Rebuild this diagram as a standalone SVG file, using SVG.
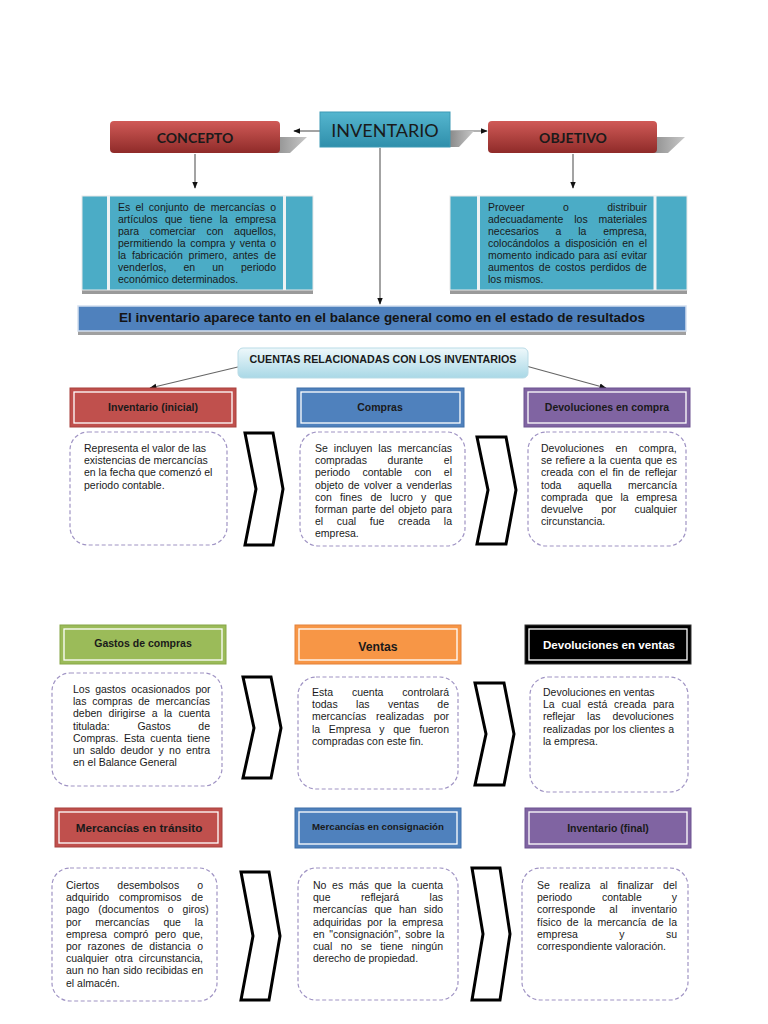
<svg xmlns="http://www.w3.org/2000/svg" width="768" height="1024" viewBox="0 0 768 1024">
<defs>
<linearGradient id="gRed" x1="0" y1="0" x2="0" y2="1"><stop offset="0" stop-color="#d05a57"/><stop offset="1" stop-color="#8f2b29"/></linearGradient>
<linearGradient id="gTeal" x1="0" y1="0" x2="0" y2="1"><stop offset="0" stop-color="#55b6cf"/><stop offset="1" stop-color="#2f8fab"/></linearGradient>
<linearGradient id="gSh" x1="0" y1="0" x2="1" y2="0"><stop offset="0" stop-color="#8a8a8a"/><stop offset="1" stop-color="#c8c8c8"/></linearGradient>
<linearGradient id="gCta" x1="0" y1="0" x2="0" y2="1"><stop offset="0" stop-color="#eef8fb"/><stop offset="1" stop-color="#a9d8e6"/></linearGradient>
<marker id="ah" viewBox="0 0 10 10" refX="9" refY="5" markerWidth="6" markerHeight="6" orient="auto"><path d="M0,1 L10,5 L0,9 z" fill="#111"/></marker>
</defs>
<style>
.body{font-family:"Liberation Sans",Arial,sans-serif;font-size:10.5px;fill:#1a1a1a}
.hdr{font-family:"Liberation Sans",Arial,sans-serif;font-weight:bold;font-size:10.5px;fill:#1a1a1a;text-anchor:middle}
.top{font-family:Lato,"Open Sans",sans-serif;fill:#1a1a1a;text-anchor:middle}
.dash{fill:#fff;stroke:#a094c4;stroke-width:1.2;stroke-dasharray:4 2.5}
.chev{fill:#fff;stroke:#000;stroke-width:3}
.inner{fill:none;stroke:#fff;stroke-width:1.3}
.conn{fill:none;stroke:#666;stroke-width:1.2;marker-end:url(#ah)}
</style>
<rect width="768" height="1024" fill="#fff"/>

<g id="connectors">
<line class="conn" x1="320" y1="131" x2="294" y2="131"/>
<line class="conn" x1="450" y1="131" x2="487" y2="131"/>
<line class="conn" x1="195" y1="154" x2="195" y2="188"/>
<line class="conn" x1="573" y1="154" x2="573" y2="188"/>
<line class="conn" x1="380" y1="148" x2="380" y2="304"/>
<line class="conn" x1="242" y1="366" x2="150" y2="388"/>
<line class="conn" x1="526" y1="366" x2="606" y2="388"/>
</g>

<g id="inventario">
<polygon points="450,131 474,131 459,147 450,147" fill="url(#gSh)"/>
<rect x="320" y="112" width="130" height="35" fill="url(#gTeal)" stroke="#3d9ab5"/>
<text class="top" x="385" y="137" font-size="18">INVENTARIO</text>
</g>
<g id="concepto">
<polygon points="272,137 307,137 290,153 272,153" fill="url(#gSh)"/>
<rect x="110" y="121" width="170" height="32" rx="4" fill="url(#gRed)"/>
<text class="top" x="195" y="143" font-size="14" font-weight="bold">CONCEPTO</text>
</g>
<g id="objetivo">
<polygon points="650,137 685,137 668,153 650,153" fill="url(#gSh)"/>
<rect x="488" y="121" width="169" height="32" rx="4" fill="url(#gRed)"/>
<text class="top" x="573" y="143" font-size="14" font-weight="bold">OBJETIVO</text>
</g>

<g id="concepto-def">
<rect x="82" y="290" width="231" height="4" fill="#9a9a9a"/>
<rect x="82" y="196" width="231" height="94" fill="#4bacc6" stroke="#e8e8e8"/>
<line x1="108.5" y1="196" x2="108.5" y2="290" stroke="#eef2f4" stroke-width="3"/>
<line x1="284.5" y1="196" x2="284.5" y2="290" stroke="#eef2f4" stroke-width="3"/>
<text class="body" x="118" y="211" style="word-spacing:2.3px">Es el conjunto de mercancías o</text>
<text class="body" x="118" y="223" style="word-spacing:4.33px">artículos que tiene la empresa</text>
<text class="body" x="118" y="235" style="word-spacing:7.75px">para comerciar con aquellos,</text>
<text class="body" x="118" y="247" style="word-spacing:1.72px">permitiendo la compra y venta o</text>
<text class="body" x="118" y="259" style="word-spacing:2.88px">la fabricación primero, antes de</text>
<text class="body" x="118" y="271" style="word-spacing:14.15px">venderlos, en un periodo</text>
<text class="body" x="118" y="283">económico determinados.</text>
</g>

<g id="objetivo-def">
<rect x="450" y="290" width="237" height="4" fill="#9a9a9a"/>
<rect x="450" y="196" width="237" height="94" fill="#4bacc6" stroke="#e8e8e8"/>
<line x1="478.5" y1="196" x2="478.5" y2="290" stroke="#eef2f4" stroke-width="3"/>
<line x1="655" y1="196" x2="655" y2="290" stroke="#eef2f4" stroke-width="3"/>
<text class="body" x="488" y="211" style="word-spacing:35.4px">Proveer o distribuir</text>
<text class="body" x="488" y="223" style="word-spacing:8px">adecuadamente los materiales</text>
<text class="body" x="488" y="235" style="word-spacing:13.9px">necesarios a la empresa,</text>
<text class="body" x="488" y="247" style="word-spacing:2.1px">colocándolos a disposición en el</text>
<text class="body" x="488" y="259" style="word-spacing:0.93px">momento indicado para así evitar</text>
<text class="body" x="488" y="271" style="word-spacing:1.8px">aumentos de costos perdidos de</text>
<text class="body" x="488" y="283">los mismos.</text>
</g>

<g id="banner">
<rect x="78" y="331" width="608" height="4" fill="#a0a0a0"/>
<rect x="78" y="306" width="608" height="25" fill="#4f81bd" stroke="#d3dff0" stroke-width="1.5"/>
<text x="382" y="322" font-family="Liberation Sans, Arial, sans-serif" font-weight="bold" font-size="13.5" fill="#141414" text-anchor="middle">El inventario aparece tanto en el balance general como en el estado de resultados</text>
</g>

<g id="cuentas">
<rect x="238" y="348" width="290" height="30" rx="5" fill="url(#gCta)" stroke="#b9dbe6"/>
<text class="hdr" x="383" y="363" style="font-size:10.7px">CUENTAS RELACIONADAS CON LOS INVENTARIOS</text>
</g>

<!-- Row 1 -->
<g id="inv-inicial">
<rect x="70" y="388" width="166" height="39" fill="#c0504d" stroke="#a8403d"/>
<rect class="inner" x="74" y="392" width="158" height="31"/>
<text class="hdr" x="153" y="411">Inventario (inicial)</text>
<rect class="dash" x="70" y="432" width="157" height="113" rx="18"/>
<text class="body" x="84" y="452">Representa el valor de las</text>
<text class="body" x="84" y="464.2">existencias de mercancías</text>
<text class="body" x="84" y="476.4">en la fecha que comenzó el</text>
<text class="body" x="84" y="488.6">periodo contable.</text>
</g>
<g id="compras">
<rect x="297" y="388" width="167" height="39" fill="#4f81bd" stroke="#3f6fa8"/>
<rect class="inner" x="301" y="392" width="159" height="31"/>
<text class="hdr" x="380" y="411">Compras</text>
<rect class="dash" x="300" y="432" width="165" height="114" rx="18"/>
<text class="body" x="315" y="452" style="word-spacing:3.08px">Se incluyen las mercancías</text>
<text class="body" x="315" y="464.2" style="word-spacing:17.7px">compradas durante el</text>
<text class="body" x="315" y="476.4" style="word-spacing:9.48px">periodo contable con el</text>
<text class="body" x="315" y="488.6" style="word-spacing:1.43px">objeto de volver a venderlas</text>
<text class="body" x="315" y="500.8" style="word-spacing:5.22px">con fines de lucro y que</text>
<text class="body" x="315" y="513" style="word-spacing:1.28px">forman parte del objeto para</text>
<text class="body" x="315" y="525.2" style="word-spacing:10.76px">el cual fue creada la</text>
<text class="body" x="315" y="537.4">empresa.</text>
</g>
<g id="dev-compra">
<rect x="524" y="388" width="166" height="39" fill="#8064a2" stroke="#6c5290"/>
<rect class="inner" x="528" y="392" width="158" height="31"/>
<text class="hdr" x="607" y="411">Devoluciones en compra</text>
<rect class="dash" x="528" y="432" width="158" height="114" rx="18"/>
<text class="body" x="541" y="452" style="word-spacing:8.63px">Devoluciones en compra,</text>
<text class="body" x="541" y="464.2" style="word-spacing:0.58px">se refiere a la cuenta que es</text>
<text class="body" x="541" y="476.4" style="word-spacing:1.88px">creada con el fin de reflejar</text>
<text class="body" x="541" y="488.6" style="word-spacing:13.43px">toda aquella mercancía</text>
<text class="body" x="541" y="500.8" style="word-spacing:4.68px">comprada que la empresa</text>
<text class="body" x="541" y="513" style="word-spacing:15.18px">devuelve por cualquier</text>
<text class="body" x="541" y="525.2">circunstancia.</text>
</g>

<!-- Row 2 -->
<g id="gastos-compras">
<rect x="60" y="625" width="166" height="39" fill="#9bbb59" stroke="#86a646"/>
<rect class="inner" x="64" y="629" width="158" height="31"/>
<text class="hdr" x="143" y="647">Gastos de compras</text>
<rect class="dash" x="52" y="673" width="170" height="113" rx="18"/>
<text class="body" x="73" y="693" style="word-spacing:2.28px">Los gastos ocasionados por</text>
<text class="body" x="73" y="705.2" style="word-spacing:2.88px">las compras de mercancías</text>
<text class="body" x="73" y="717.4" style="word-spacing:3.46px">deben dirigirse a la cuenta</text>
<text class="body" x="73" y="729.6" style="word-spacing:24.73px">titulada: Gastos de</text>
<text class="body" x="73" y="741.8" style="word-spacing:2.48px">Compras. Esta cuenta tiene</text>
<text class="body" x="73" y="754" style="word-spacing:2.42px">un saldo deudor y no entra</text>
<text class="body" x="73" y="766.2">en el Balance General</text>
</g>
<g id="ventas">
<rect x="295" y="625" width="166" height="39" fill="#f79646" stroke="#e3813a"/>
<rect class="inner" x="299" y="629" width="158" height="31"/>
<text class="hdr" x="378" y="650.5" style="font-size:12.2px">Ventas</text>
<rect class="dash" x="298" y="677" width="160" height="112" rx="18"/>
<text class="body" x="312" y="696" style="word-spacing:15.98px">Esta cuenta controlará</text>
<text class="body" x="312" y="708.2" style="word-spacing:15.51px">todas las ventas de</text>
<text class="body" x="312" y="720.4" style="word-spacing:6.93px">mercancías realizadas por</text>
<text class="body" x="312" y="732.6" style="word-spacing:5.65px">la Empresa y que fueron</text>
<text class="body" x="312" y="744.8">compradas con este fin.</text>
</g>
<g id="dev-ventas">
<rect x="525" y="625" width="166" height="39" fill="#000" stroke="#333"/>
<rect class="inner" x="529" y="629" width="158" height="31"/>
<text class="hdr" x="609" y="648.5" style="fill:#fff;font-size:11.6px">Devoluciones en ventas</text>
<rect class="dash" x="530" y="677" width="158" height="115" rx="18"/>
<text class="body" x="543" y="696">Devoluciones en ventas</text>
<text class="body" x="543" y="708.2" style="word-spacing:3.86px">La cual está creada para</text>
<text class="body" x="543" y="720.4" style="word-spacing:9.08px">reflejar las devoluciones</text>
<text class="body" x="543" y="732.6" style="word-spacing:0.36px">realizadas por los clientes a</text>
<text class="body" x="543" y="744.8">la empresa.</text>
</g>

<!-- Row 3 -->
<g id="merc-transito">
<rect x="55" y="808" width="167" height="39" fill="#c0504d" stroke="#a8403d"/>
<rect class="inner" x="59" y="812" width="159" height="31"/>
<text class="hdr" x="139" y="831.5" style="font-size:11.7px">Mercancías en tránsito</text>
<rect class="dash" x="52" y="868" width="165" height="133" rx="18"/>
<text class="body" x="66" y="889" style="word-spacing:15.13px">Ciertos desembolsos o</text>
<text class="body" x="66" y="901.2" style="word-spacing:6.93px">adquirido compromisos de</text>
<text class="body" x="66" y="913.4" style="word-spacing:5.98px">pago (documentos o giros)</text>
<text class="body" x="66" y="925.6" style="word-spacing:11.05px">por mercancías que la</text>
<text class="body" x="66" y="937.8" style="word-spacing:3.65px">empresa compró pero que,</text>
<text class="body" x="66" y="950" style="word-spacing:3.46px">por razones de distancia o</text>
<text class="body" x="66" y="962.2" style="word-spacing:3.13px">cualquier otra circunstancia,</text>
<text class="body" x="66" y="974.4" style="word-spacing:0.56px">aun no han sido recibidas en</text>
<text class="body" x="66" y="986.6">el almacén.</text>
</g>
<g id="merc-consignacion">
<rect x="295" y="808" width="166" height="40" fill="#4f81bd" stroke="#3f6fa8"/>
<rect class="inner" x="299" y="812" width="158" height="32"/>
<text class="hdr" x="378" y="829.5" style="font-size:9.7px">Mercancías en consignación</text>
<rect class="dash" x="298" y="868" width="160" height="132" rx="18"/>
<text class="body" x="313" y="889" style="word-spacing:2.78px">No es más que la cuenta</text>
<text class="body" x="313" y="901.2" style="word-spacing:27.63px">que reflejará las</text>
<text class="body" x="313" y="913.4" style="word-spacing:4.25px">mercancías que han sido</text>
<text class="body" x="313" y="925.6" style="word-spacing:2.88px">adquiridas por la empresa</text>
<text class="body" x="313" y="937.8" style="word-spacing:1.58px">en "consignación", sobre la</text>
<text class="body" x="313" y="950" style="word-spacing:5.51px">cual no se tiene ningún</text>
<text class="body" x="313" y="962.2">derecho de propiedad.</text>
</g>
<g id="inv-final">
<rect x="525" y="808" width="166" height="40" fill="#8064a2" stroke="#6c5290"/>
<rect class="inner" x="529" y="812" width="158" height="32"/>
<text class="hdr" x="608" y="832">Inventario (final)</text>
<rect class="dash" x="522" y="868" width="166" height="132" rx="18"/>
<text class="body" x="537" y="889" style="word-spacing:6.56px">Se realiza al finalizar del</text>
<text class="body" x="537" y="901.2" style="word-spacing:27.08px">periodo contable y</text>
<text class="body" x="537" y="913.4" style="word-spacing:11.08px">corresponde al inventario</text>
<text class="body" x="537" y="925.6" style="word-spacing:2.44px">físico de la mercancía de la</text>
<text class="body" x="537" y="937.8" style="word-spacing:38.48px">empresa y su</text>
<text class="body" x="537" y="950">correspondiente valoración.</text>
</g>

<g id="chevrons">
<polygon class="chev" points="245,433 273,433 283,489 273,545 245,545 256,489"/>
<polygon class="chev" points="477,437 506,437 516,490 506,544 477,544 488,490"/>
<polygon class="chev" points="243,677 271,677 281,728 271,778 243,778 254,728"/>
<polygon class="chev" points="475,683 504,683 514,734 504,785 475,785 486,734"/>
<polygon class="chev" points="241,872 269,872 280,936 269,1000 241,1000 253,936"/>
<polygon class="chev" points="472,868 500,868 510,934 500,1000 472,1000 483,934"/>
</g>
</svg>
